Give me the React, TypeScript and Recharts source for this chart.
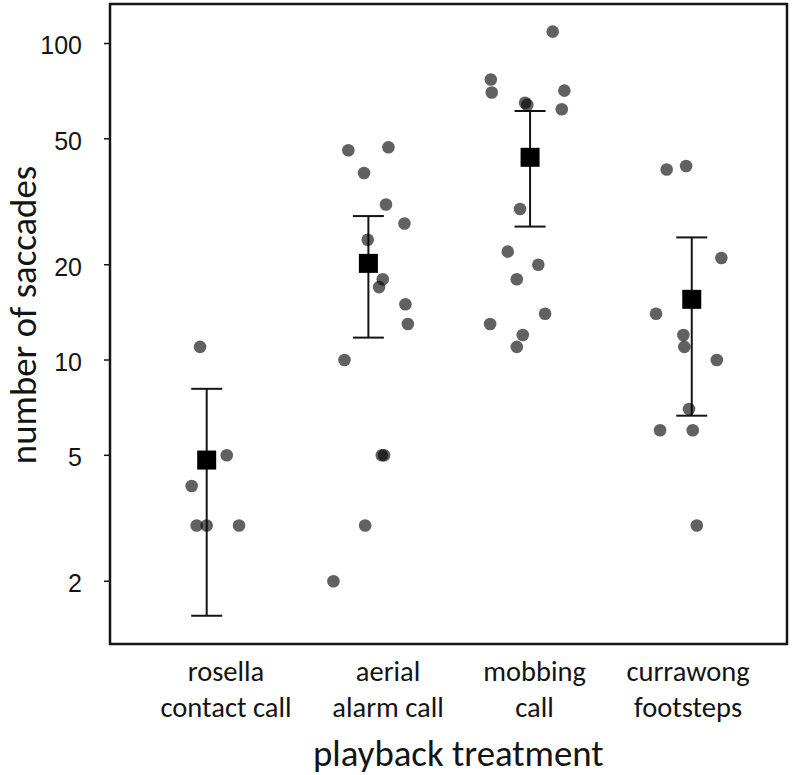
import React from 'react';
import { ScatterChart, Scatter, XAxis, YAxis, ErrorBar, ReferenceArea } from 'recharts';

// Playback treatments (two-line tick labels)
const treatments: [string, string][] = [
  ['rosella', 'contact call'],
  ['aerial', 'alarm call'],
  ['mobbing', 'call'],
  ['currawong', 'footsteps'],
];

// Saccade counts per individual, with horizontal jitter (in category units)
const rosellaSaccades = [11, 5, 4, 3, 3, 3];
const rosellaJitter = [-0.041, 0.124, -0.093, -0.062, 0, 0.2];

const aerialSaccades = [46, 47, 39, 31, 27, 24, 18, 17, 15, 13, 10, 5, 5, 3, 2];
const aerialJitter = [-0.124, 0.124, -0.027, 0.109, 0.223, -0.004, 0.089, 0.066, 0.229, 0.244, -0.148, 0.083, 0.097, -0.02, -0.216];

const mobbingSaccades = [109, 77, 70, 71, 65, 64, 62, 30, 22, 20, 18, 14, 13, 12, 11];
const mobbingJitter = [0.14, -0.243, -0.237, 0.212, -0.031, -0.017, 0.196, -0.062, -0.138, 0.051, -0.082, 0.093, -0.247, -0.045, -0.082];

const currawongSaccades = [40, 41, 21, 14, 12, 11, 10, 7, 6, 6, 3];
const currawongJitter = [-0.155, -0.035, 0.183, -0.221, -0.052, -0.046, 0.155, -0.017, -0.196, 0.006, 0.031];

// Model estimates with 95% confidence limits
const groupMeans = [4.83, 20.2, 43.7, 15.55];
const ciLower = [1.556, 11.77, 26.4, 6.67];
const ciUpper = [8.11, 28.5, 61.2, 24.4];

const yTicks = [2, 5, 10, 20, 50, 100];
const xTicks = [1, 2, 3, 4];
const xDomain: [number, number] = [0.402, 4.589];
const yDomain: [number, number] = [1.267, 133.3];

const xTitle = 'playback treatment';
const yTitle = 'number of saccades';

const groups = [rosellaSaccades, aerialSaccades, mobbingSaccades, currawongSaccades];
const jitters = [rosellaJitter, aerialJitter, mobbingJitter, currawongJitter];

const pointData = groups.flatMap((vals, g) =>
  vals.map((v, i) => ({ x: g + 1 + jitters[g][i], y: v }))
);
const meanData = groupMeans.map((m, g) => ({
  x: g + 1,
  y: m,
  ci: [m - ciLower[g], ciUpper[g] - m],
}));

const labelFont = 'Carlito, Lato, "Open Sans", sans-serif';
const ink = '#141414';
// small horizontal nudges for the treatment captions
const captionShift = [19.3, 19.7, 4.5, -3.7];

function TreatmentTick(props: any) {
  const { x, y, payload } = props;
  const i = Math.round(payload.value) - 1;
  if (i < 0 || i >= treatments.length) return null;
  const cx = x + captionShift[i];
  const [l1, l2] = treatments[i];
  return (
    <text x={cx} y={y} textAnchor="middle" fontFamily={labelFont} fontSize={28.5} fill={ink}>
      <tspan x={cx} dy={37}>{l1}</tspan>
      <tspan x={cx} dy={35.7}>{l2}</tspan>
    </text>
  );
}

const dot = (p: any) => (
  <circle cx={p.cx} cy={p.cy} r={6.3} fill="#000" fillOpacity={0.62} />
);
const square = (p: any) => (
  <rect x={p.cx - 9.5} y={p.cy - 9.5} width={19} height={19} fill="#000" />
);

export default function App() {
  return (
    <div style={{ position: 'absolute', left: 0, top: 0, width: 792, height: 775, background: '#fff' }}>
      <ScatterChart width={792} height={775} margin={{ top: 4, right: 5, bottom: 11, left: 10 }}>
        <XAxis
          type="number"
          dataKey="x"
          domain={xDomain}
          ticks={xTicks}
          interval={0}
          allowDataOverflow
          tickLine={false}
          axisLine={false}
          tickSize={0}
          tickMargin={0}
          height={120}
          tick={<TreatmentTick />}
          label={{
            content: (lp: any) => {
              const vb = lp.viewBox;
              return (
                <text
                  x={vb.x + vb.width / 2 + 9.8}
                  y={vb.y + 121.7}
                  textAnchor="middle"
                  fontFamily={labelFont}
                  fontSize={36.8}
                  fill={ink}
                >
                  {xTitle}
                </text>
              );
            },
          }}
        />
        <YAxis
          type="number"
          dataKey="y"
          scale="log"
          domain={yDomain}
          ticks={yTicks}
          interval={0}
          allowDataOverflow
          width={100}
          axisLine={false}
          tickSize={6}
          tickMargin={22}
          tickLine={{ stroke: ink, strokeWidth: 1.5 }}
          tick={{ fontFamily: '"Liberation Sans", Arial, sans-serif', fontSize: 25, fill: ink, dy: 2 }}
          label={{
            content: (lp: any) => {
              const vb = lp.viewBox;
              const lx = vb.x + 26;
              const ly = vb.y + vb.height / 2 - 9;
              return (
                <text
                  x={lx}
                  y={ly}
                  transform={`rotate(-90 ${lx} ${ly})`}
                  textAnchor="middle"
                  fontFamily={labelFont}
                  fontSize={36.8}
                  fill={ink}
                >
                  {yTitle}
                </text>
              );
            },
          }}
        />
        <Scatter data={pointData} shape={dot} isAnimationActive={false} />
        <Scatter data={meanData} shape={square} isAnimationActive={false}>
          <ErrorBar dataKey="ci" direction="y" width={15.5} stroke={ink} strokeWidth={2} isAnimationActive={false} />
        </Scatter>
        <ReferenceArea
          x1={xDomain[0]}
          x2={xDomain[1]}
          y1={yDomain[0]}
          y2={yDomain[1]}
          fill="none"
          stroke={ink}
          strokeWidth={2.5}
          ifOverflow="visible"
        />
      </ScatterChart>
    </div>
  );
}
